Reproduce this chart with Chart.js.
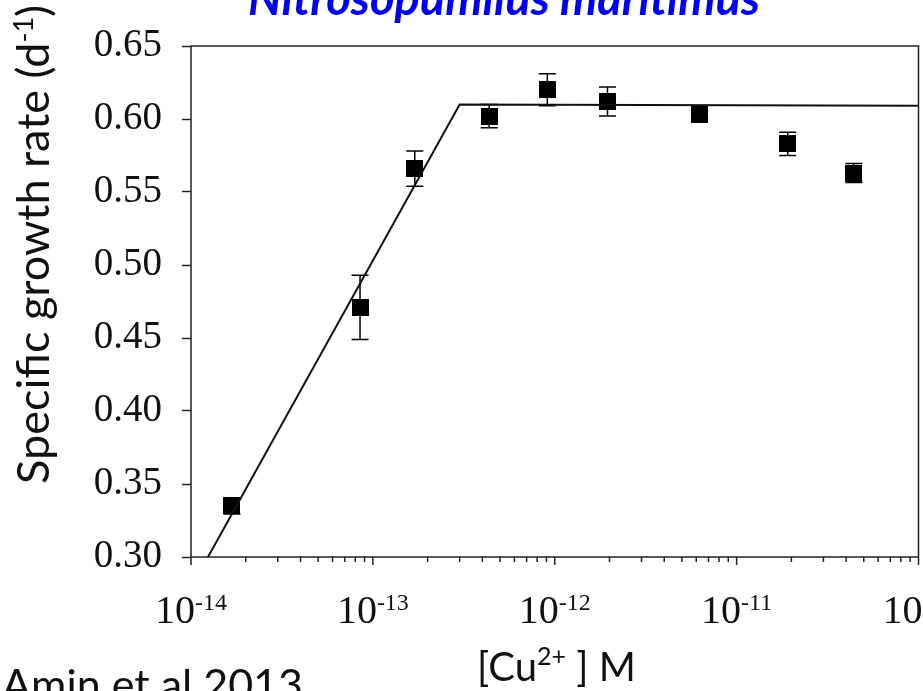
<!DOCTYPE html>
<html>
<head>
<meta charset="utf-8">
<script src="https://cdn.jsdelivr.net/npm/chart.js@4"></script>
<style>
  html, body { margin: 0; padding: 0; background: #fff; }
  #wrap { width: 923px; height: 691px; }
</style>
</head>
<body>
<div id="wrap"><canvas id="growthChart"></canvas></div>
<script>
// free Cu2+ concentration (M) vs. specific growth rate (d-1)
const concentrations = [1.68e-14, 8.5e-14, 1.70e-13, 4.36e-13, 9.1e-13, 1.95e-12, 6.26e-12, 1.91e-11, 4.41e-11];
const growthRates = [0.335, 0.471, 0.566, 0.602, 0.620, 0.612, 0.603, 0.583, 0.563];
const growthErrors = [0.0055, 0.022, 0.012, 0.008, 0.011, 0.010, 0.003, 0.008, 0.0065];

// broken-stick fit
const fitConc = [1.24e-14, 3.0e-13, 1e-10];
const fitRate = [0.300, 0.610, 0.609];

const decadeExponents = [-14, -13, -12, -11, -10];

const serif = '"Liberation Serif", "Times New Roman", serif';
const sans = 'Lato, "Noto Sans", sans-serif';

// solid square marker; an image point style keeps the layout from
// reserving extra room for large point radii
const square = document.createElement('canvas');
square.width = 17;
square.height = 17;
const sq = square.getContext('2d');
sq.fillStyle = '#000';
sq.fillRect(0, 0, 17, 17);

function drawSup(ctx, x, y, base, sup, baseFont, supFont, supRise, align) {
  ctx.font = baseFont;
  const wb = ctx.measureText(base).width;
  ctx.font = supFont;
  const ws = ctx.measureText(sup).width;
  let start = x;
  if (align === 'center') start = x - (wb + ws) / 2;
  ctx.textAlign = 'left';
  ctx.font = baseFont;
  ctx.fillText(base, start, y);
  ctx.font = supFont;
  ctx.fillText(sup, start + wb, y - supRise);
  return wb + ws;
}

const decorations = {
  id: 'decorations',
  beforeDatasetsDraw(chart) {
    const { ctx, chartArea: a } = chart;
    const xs = chart.scales.x;
    const ys = chart.scales.y;
    ctx.save();

    // plot frame
    ctx.strokeStyle = '#222';
    ctx.lineWidth = 1.5;
    ctx.strokeRect(a.left, a.top, a.right - a.left, a.bottom - a.top);

    // log ticks on the x axis
    ctx.beginPath();
    decadeExponents.forEach((e, i) => {
      const px = xs.getPixelForValue(Math.pow(10, e));
      ctx.moveTo(px, a.bottom);
      ctx.lineTo(px, a.bottom + 8);
      if (i < decadeExponents.length - 1) {
        for (let m = 2; m <= 9; m++) {
          const mx = xs.getPixelForValue(m * Math.pow(10, e));
          ctx.moveTo(mx, a.bottom);
          ctx.lineTo(mx, a.bottom + 5);
        }
      }
    });
    ctx.stroke();

    // x tick labels 10^n
    ctx.fillStyle = '#111';
    ctx.textBaseline = 'alphabetic';
    decadeExponents.forEach(e => {
      const px = xs.getPixelForValue(Math.pow(10, e));
      drawSup(ctx, px, 623, '10', String(e), '40px ' + serif, '24px ' + serif, 13, 'center');
    });

    // error bars
    ctx.strokeStyle = '#000';
    ctx.lineWidth = 1.5;
    ctx.beginPath();
    concentrations.forEach((c, i) => {
      const px = xs.getPixelForValue(c);
      const yt = ys.getPixelForValue(growthRates[i] + growthErrors[i]);
      const yb = ys.getPixelForValue(growthRates[i] - growthErrors[i]);
      ctx.moveTo(px, yt); ctx.lineTo(px, yb);
      ctx.moveTo(px - 8.5, yt); ctx.lineTo(px + 8.5, yt);
      ctx.moveTo(px - 8.5, yb); ctx.lineTo(px + 8.5, yb);
    });
    ctx.stroke();

    // title
    ctx.fillStyle = '#0000f5';
    ctx.font = 'bold italic 47px ' + sans;
    ctx.textAlign = 'center';
    ctx.fillText('Nitrosopumilus maritimus', 504, 15);

    // y axis title
    ctx.fillStyle = '#111';
    ctx.save();
    ctx.translate(49, 484);
    ctx.rotate(-Math.PI / 2);
    const w = drawSup(ctx, 0, 0, 'Specific growth rate (d', '-1', '45px ' + sans, '27px ' + sans, 16, 'left');
    ctx.font = '45px ' + sans;
    ctx.fillText(')', w, 0);
    ctx.restore();

    // x axis title
    const wc = drawSup(ctx, 477, 681, '[Cu', '2+', '40px ' + sans, '25px ' + sans, 16, 'left');
    ctx.font = '40px ' + sans;
    ctx.textAlign = 'left';
    ctx.fillText(' ] M', 477 + wc, 681);

    // reference
    ctx.font = '43px ' + sans;
    ctx.fillText('Amin et al 2013', 2, 700);
    ctx.restore();
  }
};

new Chart(document.getElementById('growthChart'), {
  type: 'scatter',
  data: {
    datasets: [
      {
        label: 'Fit',
        type: 'line',
        data: fitConc.map((c, i) => ({ x: c, y: fitRate[i] })),
        borderColor: '#111',
        borderWidth: 2,
        pointRadius: 0,
        fill: false,
        tension: 0
      },
      {
        label: 'Growth rate',
        data: concentrations.map((c, i) => ({ x: c, y: growthRates[i] })),
        pointStyle: square,
        pointRadius: 1,
        backgroundColor: '#000',
        borderColor: '#000',
        borderWidth: 0
      }
    ]
  },
  options: {
    responsive: true,
    maintainAspectRatio: false,
    animation: false,
    layout: { padding: { top: 46, right: 4.5, bottom: 0, left: 0 } },
    plugins: { legend: { display: false }, tooltip: { enabled: false }, title: { display: false } },
    scales: {
      x: {
        type: 'logarithmic',
        min: 1e-14,
        max: 1e-10,
        ticks: { display: false },
        grid: { display: false },
        border: { display: false },
        afterFit(scale) { scale.height = 134; }
      },
      y: {
        min: 0.30,
        max: 0.65,
        ticks: {
          stepSize: 0.05,
          padding: 20,
          color: '#111',
          font: { family: serif, size: 39 },
          callback: v => v.toFixed(2)
        },
        grid: { drawOnChartArea: false, drawTicks: true, tickLength: 9, tickWidth: 1.5, tickColor: '#222' },
        border: { display: false },
        afterFit(scale) { scale.width = 191; }
      }
    }
  },
  plugins: [decorations]
});
</script>
</body>
</html>
